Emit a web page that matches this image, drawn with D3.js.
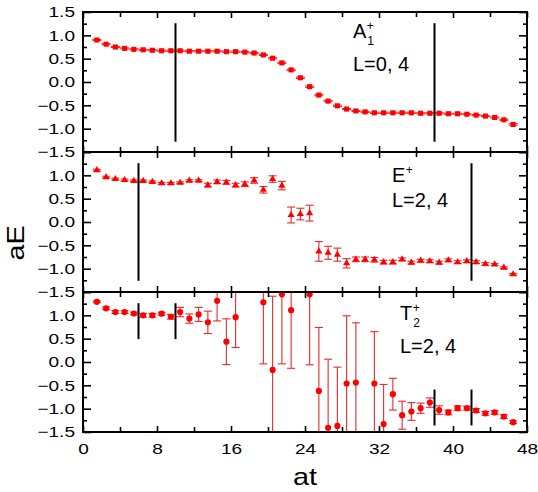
<!DOCTYPE html>
<html><head><meta charset="utf-8">
<script src="https://cdn.jsdelivr.net/npm/d3@7/dist/d3.min.js"></script>
<style>
body{margin:0;background:#fff}
text{font-family:"Liberation Sans",Arial,Helvetica,sans-serif}
</style>
</head><body>
<svg id="chart" width="538" height="492"></svg>
<script>
// ---------- data ----------
const times = [1.5,2.5,3.5,4.5,5.5,6.5,7.5,8.5,9.5,10.5,11.5,12.5,13.5,14.5,15.5,16.5,17.5,18.5,19.5,20.5,
  21.5,22.5,23.5,24.5,25.5,26.5,27.5,28.5,29.5,30.5,31.5,32.5,33.5,34.5,35.5,36.5,37.5,38.5,39.5,40.5,
  41.5,42.5,43.5,44.5,45.5,46.5];

const a1Values = [0.90,0.81,0.75,0.72,0.70,0.69,0.68,0.67,0.67,0.67,0.66,0.66,0.66,0.66,0.65,0.65,0.64,0.62,0.58,0.51,
  0.41,0.26,0.09,-0.10,-0.28,-0.41,-0.51,-0.58,-0.62,-0.64,-0.66,-0.66,-0.66,-0.66,-0.66,-0.67,-0.67,-0.67,-0.68,-0.68,
  -0.69,-0.71,-0.73,-0.76,-0.81,-0.91];
const a1Errors = [0.012,0.012,0.012,0.012,0.012,0.012,0.012,0.012,0.012,0.012,0.012,0.012,0.012,0.012,0.012,0.012,0.012,0.012,0.012,0.015,
  0.015,0.015,0.015,0.015,0.015,0.015,0.015,0.012,0.012,0.012,0.012,0.012,0.012,0.012,0.012,0.012,0.012,0.012,0.012,0.012,
  0.012,0.012,0.012,0.012,0.012,0.015];

const eValues = [1.11,0.96,0.92,0.90,0.88,0.88,0.86,0.83,0.83,0.84,0.885,0.885,0.79,0.86,0.85,0.79,0.81,0.89,0.69,0.92,
  0.78,0.15,0.17,0.19,-0.63,-0.66,-0.70,-0.885,-0.80,-0.80,-0.81,-0.86,-0.86,-0.80,-0.87,-0.83,-0.84,-0.87,-0.82,-0.86,
  -0.84,-0.86,-0.90,-0.91,-0.98,-1.12];
const eErrors = [0.02,0.02,0.02,0.02,0.02,0.02,0.02,0.02,0.02,0.02,0.02,0.02,0.04,0.04,0.04,0.04,0.05,0.06,0.07,0.07,
  0.09,0.17,0.125,0.17,0.21,0.14,0.14,0.10,0.05,0.05,0.05,0.04,0.04,0.03,0.03,0.03,0.03,0.03,0.03,0.03,
  0.03,0.03,0.03,0.02,0.02,0.02];

const t2Values = [1.29,1.15,1.07,1.07,1.04,1.00,1.00,1.035,0.97,1.07,0.93,1.02,0.85,1.31,0.435,0.96,null,null,1.28,-0.17,
  1.45,1.11,null,1.45,-0.62,-1.41,-1.37,-0.46,-0.44,null,-0.46,-1.33,-0.69,-1.14,-1.06,-0.99,-0.87,-1.03,-1.08,-0.99,
  -0.99,-1.04,-1.10,-1.08,-1.17,-1.29];
const t2Errors = [0.02,0.03,0.03,0.03,0.03,0.04,0.04,0.03,0.05,0.10,0.10,0.15,0.24,0.43,0.49,0.65,null,null,1.32,1.58,
  1.49,1.245,null,1.51,1.36,1.47,1.26,1.45,1.28,null,1.11,0.85,0.34,0.30,0.19,0.11,0.10,0.09,0.05,0.05,
  0.04,0.04,0.04,0.04,0.04,0.03];

const panelNames = ["A1", "E", "T2"];
const markerShapes = ["square", "triangle", "circle"];
const irrepLetters = ["A", "E", "T"];
const irrepSubs = ["1", "", "2"];
const lLabels = ["L=0, 4", "L=2, 4", "L=2, 4"];
// fit-range markers: [t, yFrom, yTo]
const fitLines = [
  [[10,-1.28,1.26],[38,-1.28,1.26]],
  [[6,-1.26,1.26],[42,-1.26,1.26]],
  [[6,0.49,1.26],[10,0.49,1.26],[38,-1.36,-0.59],[42,-1.36,-0.59]]
];
const xMajorTicks = [0,8,16,24,32,40,48];
const xMinorTicks = [4,12,20,28,36,44];
const yMajorTicks = [-1.5,-1.0,-0.5,0.0,0.5,1.0,1.5];
const yMinorTicks = [-1.25,-0.75,-0.25,0.25,0.75,1.25];
const xLabel = "at", yLabel = "aE";

// ---------- layout ----------
const svg = d3.select("#chart");
const L = 83, R = 527, T0 = 12, PH = 140;
const x = d3.scaleLinear().domain([0,48]).range([L,R]);
const red = "#ff0000", errRed = "#e8292d";
const seriesVals = [a1Values, eValues, t2Values];
const seriesErrs = [a1Errors, eErrors, t2Errors];
const symbolSizes = {square: 26, triangle: 22, circle: 30};
const symbolTypes = {square: d3.symbolSquare, triangle: d3.symbolTriangle, circle: d3.symbolCircle};

function stretch(sel, f){
  sel.each(function(){
    const w = this.getComputedTextLength();
    if (w > 0) { d3.select(this).attr("textLength", w*f).attr("lengthAdjust","spacingAndGlyphs"); }
  });
}

panelNames.forEach((name, i) => {
  const top = T0 + i*PH, bot = top + PH;
  const y = d3.scaleLinear().domain([-1.5,1.5]).range([bot, top]);
  const g = svg.append("g");
  const clipId = "clip"+i;
  svg.append("clipPath").attr("id", clipId).append("rect")
    .attr("x", L).attr("y", top).attr("width", R-L).attr("height", PH);

  const data = times.map((t,k)=>({t, v: seriesVals[i][k], e: seriesErrs[i][k]})).filter(d=>d.v!==null);
  const cap = i===0 ? 4.5 : 4;
  const pg = g.append("g").attr("clip-path", `url(#${clipId})`);
  // error bars
  const eb = pg.append("g").attr("stroke", errRed).attr("stroke-width", 1.1).attr("fill","none");
  data.forEach(d => {
    const xx = x(d.t), y0 = y(d.v - d.e), y1 = y(d.v + d.e);
    eb.append("line").attr("x1",xx).attr("x2",xx).attr("y1",y0).attr("y2",y1);
    eb.append("line").attr("x1",xx-cap).attr("x2",xx+cap).attr("y1",y0).attr("y2",y0);
    eb.append("line").attr("x1",xx-cap).attr("x2",xx+cap).attr("y1",y1).attr("y2",y1);
  });
  // markers
  const shape = markerShapes[i];
  pg.append("g").selectAll("path").data(data).join("path")
    .attr("d", d3.symbol().type(symbolTypes[shape]).size(symbolSizes[shape]))
    .attr("transform", d => `translate(${x(d.t)},${y(d.v)})`)
    .attr("fill", red);

  // fit-range lines
  g.append("g").selectAll("line").data(fitLines[i]).join("line")
    .attr("x1", d=>x(d[0])).attr("x2", d=>x(d[0]))
    .attr("y1", d=>y(d[1])).attr("y2", d=>y(d[2]))
    .attr("stroke","#000").attr("stroke-width",2);

  // axes (inward ticks)
  const fmt = v => (i>0 && v===1.5) ? "" : d3.format(".1f")(v);
  const left = g.append("g").attr("transform",`translate(${L},0)`)
    .call(d3.axisLeft(y).tickValues(yMajorTicks).tickSize(-8).tickPadding(8).tickFormat(fmt));
  g.append("g").attr("transform",`translate(${L},0)`)
    .call(d3.axisLeft(y).tickValues(yMinorTicks).tickSize(-4).tickFormat(""));
  g.append("g").attr("transform",`translate(${R},0)`)
    .call(d3.axisRight(y).tickValues(yMajorTicks).tickSize(-8).tickFormat(""));
  g.append("g").attr("transform",`translate(${R},0)`)
    .call(d3.axisRight(y).tickValues(yMinorTicks).tickSize(-4).tickFormat(""));
  g.append("g").attr("transform",`translate(0,${top})`)
    .call(d3.axisTop(x).tickValues(xMajorTicks).tickSize(-6).tickFormat(""));
  g.append("g").attr("transform",`translate(0,${top})`)
    .call(d3.axisTop(x).tickValues(xMinorTicks).tickSize(-5).tickFormat(""));
  const bottom = g.append("g").attr("transform",`translate(0,${bot})`)
    .call(d3.axisBottom(x).tickValues(xMajorTicks).tickSize(-6).tickPadding(11)
      .tickFormat(i===2 ? d3.format("d") : ""));
  g.append("g").attr("transform",`translate(0,${bot})`)
    .call(d3.axisBottom(x).tickValues(xMinorTicks).tickSize(-5).tickFormat(""));
  g.selectAll(".domain").remove();
  g.selectAll(".tick line").attr("stroke","#000").attr("stroke-width",1.6);
  g.selectAll(".tick text").attr("font-size",15).attr("fill","#000")
    .attr("font-family",'"Liberation Sans",Arial,sans-serif');
  stretch(left.selectAll(".tick text"), 1.27);
  stretch(bottom.selectAll(".tick text"), 1.27);

  // frame
  g.append("rect").attr("x",L).attr("y",top).attr("width",R-L).attr("height",PH)
    .attr("fill","none").attr("stroke","#000").attr("stroke-width",2);

  // annotations
  const ax = [353, 392, 400][i];
  const ay = [38, 182, 320][i];
  const ly = [70.5, 206.5, 353][i];
  const letter = g.append("text").attr("x", ax).attr("y", ay).attr("font-size", 20).text(irrepLetters[i]);
  const lw = letter.node().getComputedTextLength();
  g.append("text").attr("x", ax+lw+0.5).attr("y", ay-8).attr("font-size", 12).text("+");
  if (irrepSubs[i]) g.append("text").attr("x", ax+lw+1).attr("y", ay+7).attr("font-size", 12).text(irrepSubs[i]);
  g.append("text").attr("x", ax).attr("y", ly).attr("font-size", 20).text(lLabels[i]);
});

// axis titles
const xt = svg.append("text").attr("x", (L+R)/2).attr("y", 485).attr("text-anchor","middle")
  .attr("font-size", 24).text(xLabel);
stretch(xt, 1.2);
const yt = svg.append("text").attr("transform","translate(24,243) rotate(-90)").attr("text-anchor","middle")
  .attr("font-size", 24).text(yLabel);
stretch(yt, 1.2);
</script>
</body></html>
